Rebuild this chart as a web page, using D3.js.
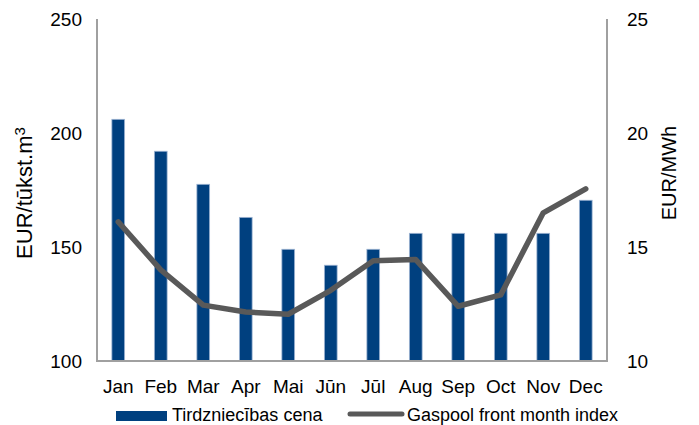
<!DOCTYPE html>
<html>
<head>
<meta charset="utf-8">
<script src="https://cdn.jsdelivr.net/npm/d3@7"></script>
<style>
  body { margin: 0; background: #fff; }
  text { font-family: "Liberation Sans", Arial, sans-serif; fill: #000; }
</style>
</head>
<body>
<svg width="699" height="425"></svg>
<script>
var months = ["Jan", "Feb", "Mar", "Apr", "Mai", "Jūn", "Jūl", "Aug", "Sep", "Oct", "Nov", "Dec"];
var tradePrice = [206, 192, 177.5, 163, 149, 142, 149, 156, 156, 156, 156, 170.5];
var gaspool = [16.1, 14.0, 12.45, 12.15, 12.05, 13.1, 14.4, 14.45, 12.4, 12.9, 16.5, 17.55];
var leftTicks = [100, 150, 200, 250];
var rightTicks = [10, 15, 20, 25];

var svg = d3.select("svg");
var plotLeft = 97, plotRight = 607, plotTop = 19, plotBottom = 361;

var x = d3.scaleBand().domain(months).range([plotLeft, plotRight]).paddingInner(0.7).paddingOuter(0.35);
var yL = d3.scaleLinear().domain([100, 250]).range([plotBottom, plotTop]);
var yR = d3.scaleLinear().domain([10, 25]).range([plotBottom, plotTop]);

// bars
svg.append("g").selectAll("rect")
    .data(tradePrice)
    .enter().append("rect")
    .attr("x", (d, i) => x(months[i]))
    .attr("y", d => yL(d))
    .attr("width", x.bandwidth())
    .attr("height", d => plotBottom - yL(d))
    .attr("fill", "#00407f")
    .attr("stroke", "#9fb5d3")
    .attr("stroke-width", 0.8);

// axis lines
var axisColor = "#a0a0a0";
svg.append("line").attr("x1", plotLeft).attr("x2", plotLeft).attr("y1", plotTop).attr("y2", plotBottom)
    .attr("stroke", axisColor).attr("stroke-width", 2);
svg.append("line").attr("x1", plotRight).attr("x2", plotRight).attr("y1", plotTop).attr("y2", plotBottom)
    .attr("stroke", axisColor).attr("stroke-width", 2);
svg.append("line").attr("x1", plotLeft - 1).attr("x2", plotRight + 1).attr("y1", plotBottom).attr("y2", plotBottom)
    .attr("stroke", axisColor).attr("stroke-width", 2);

// line series
var line = d3.line()
    .x((d, i) => x(months[i]) + x.bandwidth() / 2)
    .y(d => yR(d));
svg.append("path")
    .datum(gaspool)
    .attr("d", line)
    .attr("fill", "none")
    .attr("stroke", "#595959")
    .attr("stroke-width", 5.5)
    .attr("stroke-linejoin", "round")
    .attr("stroke-linecap", "round");

// tick labels
svg.append("g").selectAll("text")
    .data(leftTicks)
    .enter().append("text")
    .attr("x", 82)
    .attr("y", d => yL(d))
    .attr("dy", "0.35em")
    .attr("text-anchor", "end")
    .style("font-size", "19px")
    .text(d => d);

svg.append("g").selectAll("text")
    .data(rightTicks)
    .enter().append("text")
    .attr("x", 627)
    .attr("y", d => yR(d))
    .attr("dy", "0.35em")
    .attr("text-anchor", "start")
    .style("font-size", "19px")
    .text(d => d);

svg.append("g").selectAll("text")
    .data(months)
    .enter().append("text")
    .attr("x", d => x(d) + x.bandwidth() / 2)
    .attr("y", 393)
    .attr("text-anchor", "middle")
    .style("font-size", "19px")
    .text(d => d);

// axis titles
var lt = svg.append("text")
    .attr("transform", "translate(32,193) rotate(-90)")
    .attr("text-anchor", "middle")
    .style("font-size", "22px");
lt.append("tspan").text("EUR/tūkst.m");
lt.append("tspan").attr("dy", "-0.45em").style("font-size", "15px").text("3");

svg.append("text")
    .attr("transform", "translate(676,173) rotate(-90)")
    .attr("text-anchor", "middle")
    .style("font-size", "20px")
    .text("EUR/MWh");

// legend
svg.append("rect")
    .attr("x", 116).attr("y", 411).attr("width", 51).attr("height", 10)
    .attr("fill", "#00407f");
svg.append("text")
    .attr("x", 172).attr("y", 421)
    .style("font-size", "18px")
    .text("Tirdzniecības cena");
svg.append("line")
    .attr("x1", 350).attr("x2", 402).attr("y1", 414).attr("y2", 414)
    .attr("stroke", "#595959").attr("stroke-width", 5).attr("stroke-linecap", "round");
svg.append("text")
    .attr("x", 407).attr("y", 421)
    .style("font-size", "18px")
    .text("Gaspool front month index");
</script>
</body>
</html>
